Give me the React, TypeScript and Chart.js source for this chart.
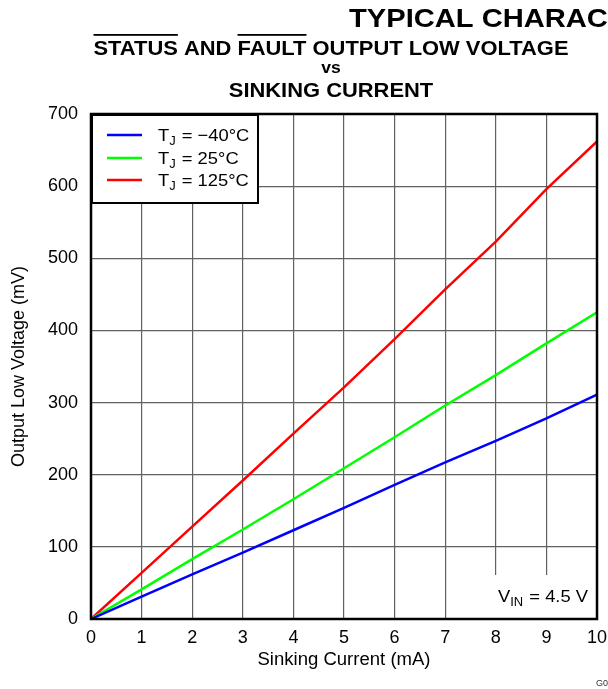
import React, { useEffect, useRef } from "react";
import { Chart, registerables } from "chart.js";

Chart.register(...registerables);

const currents = [0, 1, 2, 3, 4, 5, 6, 7, 8, 9, 10];
const vM40 = [0, 31, 62, 92, 123, 154, 186, 217, 247, 278, 311];
const v25 = [0, 41, 83, 124, 166, 209, 252, 296, 338, 382, 425];
const v125 = [0, 64, 128, 192, 257, 321, 388, 457, 523, 596, 662];

const seriesLabels = ["−40°C", "25°C", "125°C"];
const seriesColors = ["#0000ff", "#00ff00", "#ff0000"];
const seriesValues = [vM40, v25, v125];

const xTicks = [0, 1, 2, 3, 4, 5, 6, 7, 8, 9, 10];
const yTicks = [0, 100, 200, 300, 400, 500, 600, 700];

const FONT = "Arial, 'Liberation Sans', Helvetica, sans-serif";

function drawLeft(ctx: any, text: string, x: number, y: number, font: string, sx: number) {
  ctx.save();
  ctx.font = font;
  ctx.textAlign = "left";
  ctx.translate(x, y);
  ctx.scale(sx, 1);
  ctx.fillText(text, 0, 0);
  const w = ctx.measureText(text).width * sx;
  ctx.restore();
  return w;
}

function drawCenter(ctx: any, text: string, cx: number, y: number, font: string, sx: number) {
  ctx.save();
  ctx.font = font;
  ctx.textAlign = "center";
  ctx.translate(cx, y);
  ctx.scale(sx, 1);
  ctx.fillText(text, 0, 0);
  ctx.restore();
}

const decorPlugin = {
  id: "decor",
  beforeDatasetsDraw(chart: any) {
    const { ctx, chartArea } = chart;
    const { right, bottom } = chartArea;
    ctx.save();
    ctx.fillStyle = "#ffffff";
    ctx.fillRect(489, 575, right - 489, bottom - 575);
    ctx.restore();
  },
  afterDatasetsDraw(chart: any) {
    const { ctx, chartArea } = chart;
    const { left, right, top, bottom } = chartArea;
    ctx.save();
    ctx.strokeStyle = "#000";
    ctx.lineWidth = 2.5;
    ctx.strokeRect(left, top, right - left, bottom - top);

    // legend box
    const lx = left, ly = top, lw = 167, lh = 89;
    ctx.fillStyle = "#fff";
    ctx.fillRect(lx, ly, lw, lh);
    ctx.lineWidth = 2;
    ctx.strokeRect(lx + 1, ly + 1, lw - 1, lh - 1);
    const rows = [135, 158, 180];
    const SX = 1.08;
    seriesLabels.forEach((lab, i) => {
      const y = rows[i];
      ctx.strokeStyle = seriesColors[i];
      ctx.lineWidth = 2.5;
      ctx.beginPath();
      ctx.moveTo(107, y);
      ctx.lineTo(142, y);
      ctx.stroke();
      ctx.fillStyle = "#000";
      ctx.textBaseline = "alphabetic";
      const by = y + 6;
      let x = 158;
      x += drawLeft(ctx, "T", x, by, `17px ${FONT}`, SX);
      x += drawLeft(ctx, "J", x, by + 4, `12px ${FONT}`, SX) + 1;
      drawLeft(ctx, " = " + lab, x, by, `17px ${FONT}`, SX);
    });

    // VIN annotation
    ctx.fillStyle = "#000";
    let vx = 498;
    const vy = 602;
    vx += drawLeft(ctx, "V", vx, vy, `17px ${FONT}`, SX);
    vx += drawLeft(ctx, "IN", vx, vy + 4, `12px ${FONT}`, SX) + 1;
    drawLeft(ctx, " = 4.5 V", vx, vy, `17px ${FONT}`, SX);
    ctx.restore();
  },
  afterDraw(chart: any) {
    const { ctx, chartArea } = chart;
    const { left, right, top, bottom } = chartArea;
    ctx.save();
    ctx.fillStyle = "#000";
    ctx.textBaseline = "alphabetic";
    // headline
    drawLeft(ctx, "TYPICAL CHARACTERISTICS", 349, 27, `bold 26px ${FONT}`, 1.12);

    // chart title
    const tfont = `bold 20px ${FONT}`;
    const t1 = "STATUS AND FAULT OUTPUT LOW VOLTAGE";
    const cx = 331;
    ctx.font = tfont;
    const tw = 475;
    const sx = tw / ctx.measureText(t1).width;
    drawCenter(ctx, t1, cx, 55, tfont, sx);
    ctx.font = tfont;
    const x0 = cx - tw / 2;
    const wStatus = ctx.measureText("STATUS").width * sx;
    const wPre = ctx.measureText("STATUS AND ").width * sx;
    const wFault = ctx.measureText("FAULT").width * sx;
    ctx.fillRect(x0, 34, wStatus, 1.8);
    ctx.fillRect(x0 + wPre, 34, wFault, 1.8);
    drawCenter(ctx, "vs", cx, 73, `bold 16px ${FONT}`, sx);
    drawCenter(ctx, "SINKING CURRENT", cx, 97, tfont, sx);

    // axis titles
    drawCenter(ctx, "Sinking Current (mA)", (left + right) / 2, 665, `18px ${FONT}`, 1.03);
    ctx.save();
    ctx.translate(24, (top + bottom) / 2);
    ctx.rotate(-Math.PI / 2);
    ctx.font = `18px ${FONT}`;
    ctx.textAlign = "center";
    ctx.fillText("Output Low Voltage (mV)", 0, 0);
    ctx.restore();

    // figure id
    ctx.fillStyle = "#333";
    drawLeft(ctx, "G0", 596, 686, `9px ${FONT}`, 1);
    ctx.restore();
  },
};

export default function App() {
  const ref = useRef<HTMLCanvasElement>(null);
  useEffect(() => {
    if (!ref.current) return;
    const chart = new Chart(ref.current, {
      type: "line",
      data: {
        datasets: seriesValues.map((vals, i) => ({
          label: "TJ = " + seriesLabels[i],
          data: currents.map((c, j) => ({ x: c, y: vals[j] })),
          borderColor: seriesColors[i],
          backgroundColor: seriesColors[i],
          borderWidth: 2.5,
          pointRadius: 0,
          tension: 0,
          fill: false,
        })),
      },
      options: {
        responsive: false,
        animation: false,
        layout: { padding: { left: 0, top: 114, right: 11, bottom: 0 } },
        plugins: {
          legend: { display: false },
          tooltip: { enabled: false },
          title: { display: false },
        },
        scales: {
          x: {
            type: "linear",
            min: 0,
            max: 10,
            afterBuildTicks: (s: any) => {
              s.ticks = xTicks.map((v) => ({ value: v }));
            },
            afterFit: (s: any) => {
              s.height = 70;
              s.paddingLeft = 0;
              s.paddingRight = 0;
            },
            grid: { color: "#606060", lineWidth: 1.2, drawTicks: false },
            border: { display: false },
            ticks: {
              color: "#000",
              font: { family: FONT, size: 18 },
              padding: 8,
              maxRotation: 0,
            },
          },
          y: {
            type: "linear",
            min: 0,
            max: 700,
            afterBuildTicks: (s: any) => {
              s.ticks = yTicks.map((v) => ({ value: v }));
            },
            afterFit: (s: any) => {
              s.width = 91;
              s.paddingTop = 0;
              s.paddingBottom = 0;
            },
            grid: { color: "#606060", lineWidth: 1.2, drawTicks: false },
            border: { display: false },
            ticks: {
              color: "#000",
              font: { family: FONT, size: 18 },
              padding: 13,
            },
          },
        },
      },
      plugins: [decorPlugin],
    });
    return () => chart.destroy();
  }, []);
  return (
    <div style={{ position: "absolute", left: 0, top: 0, width: 608, height: 689, background: "#fff" }}>
      <canvas ref={ref} width={608} height={689} style={{ width: 608, height: 689, display: "block" }} />
    </div>
  );
}
